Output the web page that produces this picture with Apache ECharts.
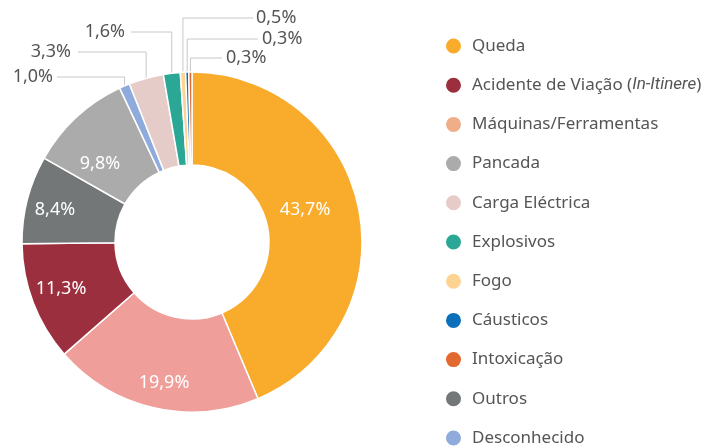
<!DOCTYPE html>
<html>
<head>
<meta charset="utf-8">
<script src="https://cdn.jsdelivr.net/npm/echarts@6/dist/echarts.min.js"></script>
<style>
html,body{margin:0;padding:0;background:#fff;}
#chart{width:726px;height:448px;}
</style>
</head>
<body>
<div id="chart"></div>
<script>
// Slice order (clockwise from 12 o'clock)
const categories = ['Queda','Máquinas/Ferramentas','Acidente de Viação (In-Itinere)','Outros','Pancada','Desconhecido','Carga Eléctrica','Explosivos','Fogo','Cáusticos','Intoxicação'];
const values = [43.7, 19.9, 11.3, 8.4, 9.8, 1.0, 3.3, 1.6, 0.5, 0.3, 0.3];
const sliceColors = ['#F9AB2B','#EF9E9A','#9C2F3E','#737777','#ABABAB','#8EABDC','#E6CCC9','#2AA795','#FDD394','#0B6FBA','#E2692F'];
// Legend order
const legendOrder = ['Queda','Acidente de Viação (In-Itinere)','Máquinas/Ferramentas','Pancada','Carga Eléctrica','Explosivos','Fogo','Cáusticos','Intoxicação','Outros','Desconhecido'];
const legendColors = {'Máquinas/Ferramentas':'#F0AE88'};

// label placement (layout, not data): [x, y, align, lineEndX]
const labelPlacement = [
  [305, 210, 'center', null],
  [164, 383, 'center', null],
  [61, 289, 'center', null],
  [55, 210, 'center', null],
  [100, 164, 'center', null],
  [53, 77, 'right', 57],
  [71, 52, 'right', 78],
  [125, 32, 'right', 131],
  [256, 18, 'left', 253],
  [262, 39, 'left', 258],
  [226, 58, 'left', 222]
];
const insideThreshold = 5;

const FONT = '"Noto Sans", sans-serif';
const ITALIC_FONT = 'Roboto, "Noto Sans", sans-serif';
const fmt = v => v.toFixed(1).replace('.', ',') + '%';

const data = categories.map((name, i) => {
  const inside = values[i] > insideThreshold;
  return {
    name: name,
    value: values[i],
    itemStyle: {color: sliceColors[i]},
    label: inside ? {position: 'inside', color: '#ffffff'} : {position: 'outside', color: '#555555'},
    labelLine: {show: !inside}
  };
});

const chart = echarts.init(document.getElementById('chart'));
chart.setOption({
  animation: false,
  legend: {
    orient: 'vertical',
    left: 444,
    top: 36.5,
    height: 440,
    padding: 0,
    icon: 'circle',
    itemWidth: 17,
    itemHeight: 17,
    itemGap: 20.2,
    selectedMode: false,
    data: legendOrder.map(n => {
      const o = {name: n};
      if (legendColors[n]) o.itemStyle = {color: legendColors[n]};
      return o;
    }),
    formatter: function (name) {
      if (name.indexOf('(In-Itinere)') >= 0) {
        return '{n|Acidente de Viação (}{i|In-Itinere}{n|)}';
      }
      return '{n|' + name + '}';
    },
    textStyle: {
      color: '#555555',
      fontFamily: FONT,
      fontSize: 17,
      padding: [0, 0, 0, 5],
      rich: {
        n: {color: '#555555', fontFamily: FONT, fontSize: 17},
        i: {color: '#555555', fontFamily: ITALIC_FONT, fontSize: 17, fontStyle: 'italic'}
      }
    }
  },
  series: [{
    type: 'pie',
    center: [192, 242],
    radius: [77, 170],
    startAngle: 90,
    clockwise: true,
    avoidLabelOverlap: false,
    itemStyle: {borderColor: '#ffffff', borderWidth: 1.5},
    label: {
      show: true,
      fontFamily: FONT,
      fontSize: 18,
      formatter: p => fmt(p.value)
    },
    labelLine: {show: true, lineStyle: {color: '#c8c8c8', width: 1}, length: 10, length2: 10},
    labelLayout: function (params) {
      const lp = labelPlacement[params.dataIndex];
      const res = {x: lp[0], y: lp[1], align: lp[2], verticalAlign: 'middle'};
      if (lp[3] !== null && params.labelLinePoints) {
        const p0 = params.labelLinePoints[0];
        res.labelLinePoints = [[p0[0], p0[1]], [p0[0], lp[1]], [lp[3], lp[1]]];
      }
      return res;
    },
    data: data
  }]
});
</script>
</body>
</html>
